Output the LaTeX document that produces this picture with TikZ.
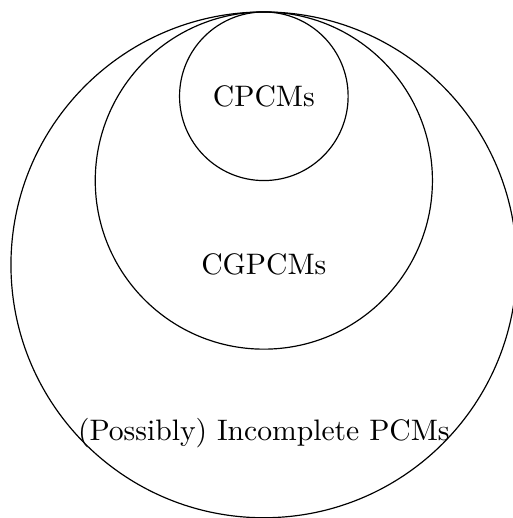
\documentclass[tikz,border=0pt]{standalone}
\begin{document}
\begin{tikzpicture}
  \tikzset{setcircle/.style={draw, line width=0.4pt}}
  % page frame
  \useasboundingbox (-3.13,-3.003) rectangle (2.955,3.142);
  \clip (-3.13,-3.003) rectangle (2.955,3.142);
  % nested classes, all tangent at the top
  \node[setcircle, circle, minimum size=6cm, inner sep=0pt] (pcm) at (0,0) {};
  \node[setcircle, circle, minimum size=4cm, inner sep=0pt] (cgpcm) at (0,1) {};
  \node[setcircle, circle, minimum size=2cm, inner sep=0pt] (cpcm) at (0,2) {};
  % labels
  \node (lcpcm) at (0,2) {CPCMs};
  \node (lcgpcm) at (0,0) {CGPCMs};
  \node (lpcm) at (0,-2) {(Possibly) Incomplete PCMs};
\end{tikzpicture}
\end{document}
